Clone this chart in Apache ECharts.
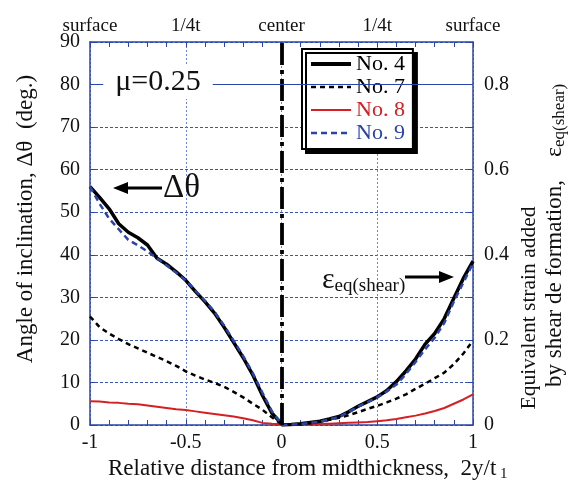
<!DOCTYPE html>
<html><head><meta charset="utf-8">
<script src="https://cdn.jsdelivr.net/npm/echarts@6/dist/echarts.min.js"></script>
<style>html,body{margin:0;padding:0;background:#fff}#c{width:570px;height:483px}</style>
</head><body><div id="c"></div>
<script>
const xLeft = [-1,-0.95,-0.9,-0.85,-0.8,-0.75,-0.7,-0.65,-0.6,-0.55,-0.5,-0.45,-0.4,-0.35,-0.3,-0.25,-0.2,-0.15,-0.1,-0.05,0];
const xRight = [0,0.05,0.1,0.15,0.2,0.25,0.3,0.35,0.4,0.45,0.5,0.55,0.6,0.65,0.7,0.75,0.8,0.85,0.9,0.95,1];
// Angle of inclination (deg.) on left half
const no4Angle = [56.0,53.5,50.8,47.3,45.3,44.0,42.3,39.2,37.8,36.0,34.0,31.4,29.0,26.3,23.0,19.4,15.8,11.8,7.0,2.8,0.3];
const no7Angle = [25.5,23.0,21.5,20.2,19.0,18.0,17.0,16.0,15.0,13.9,12.6,11.6,10.7,9.9,9.0,7.8,6.5,5.0,3.6,1.8,0.2];
const no8Angle = [5.6,5.5,5.3,5.2,5.0,4.9,4.6,4.3,4.0,3.7,3.5,3.2,2.9,2.6,2.3,2.0,1.6,1.1,0.5,0.3,0.2];
const no9Angle = [56.0,52.0,48.5,46.0,43.5,42.2,40.8,39.2,37.5,35.8,34.0,31.6,29.2,26.6,23.4,19.8,16.2,12.2,7.6,3.2,0.3];
// Equivalent strain added by shear deformation on right half
const no4Strain = [0.000,0.001,0.003,0.006,0.009,0.014,0.020,0.031,0.044,0.055,0.066,0.081,0.102,0.127,0.155,0.190,0.215,0.250,0.298,0.345,0.385];
const no7Strain = [0.000,0.001,0.002,0.004,0.008,0.012,0.017,0.023,0.030,0.038,0.045,0.053,0.062,0.072,0.085,0.097,0.110,0.123,0.143,0.168,0.198];
const no8Strain = [0.001,0.001,0.002,0.002,0.003,0.003,0.004,0.005,0.006,0.007,0.009,0.011,0.014,0.018,0.022,0.027,0.033,0.040,0.050,0.060,0.072];
const no9Strain = [0.000,0.001,0.002,0.005,0.008,0.013,0.019,0.030,0.043,0.054,0.065,0.079,0.095,0.120,0.148,0.178,0.205,0.240,0.290,0.335,0.380];
const topLabels = ['surface','1/4t','center','1/4t','surface'];
const legendNames = ['No. 4','No. 7','No. 8','No. 9'];

const FONT = 'Liberation Serif';
const BLUE = '#2a44a8';
const zip = (xs, ys) => xs.map((x, i) => [x, ys[i]]);

const styles = {
  'No. 4': {color:'#000', width:3.5, type:'solid', text:'#000'},
  'No. 7': {color:'#000', width:2.5, type:[5,4], text:'#000'},
  'No. 8': {color:'#d42024', width:2, type:'solid', text:'#d42024'},
  'No. 9': {color:'#2a44a8', width:2.5, type:[6,4], text:'#2a44a8'}
};
const angles = {'No. 4':no4Angle,'No. 7':no7Angle,'No. 8':no8Angle,'No. 9':no9Angle};
const strains = {'No. 4':no4Strain,'No. 7':no7Strain,'No. 8':no8Strain,'No. 9':no9Strain};
const order = ['No. 8','No. 7','No. 4','No. 9'];

const series = [];
order.forEach(n => {
  const s = styles[n];
  const ls = {color:s.color, width:s.width, type:s.type};
  series.push({name:n, type:'line', xAxisIndex:0, yAxisIndex:0, data:zip(xLeft, angles[n]), showSymbol:false, symbol:'none', lineStyle:ls, itemStyle:{color:s.color}, z:3});
  series.push({name:n, type:'line', xAxisIndex:0, yAxisIndex:1, data:zip(xRight, strains[n]), showSymbol:false, symbol:'none', lineStyle:ls, itemStyle:{color:s.color}, z:3});
});
series.push({type:'line', data:[], xAxisIndex:0, yAxisIndex:0, silent:true,
  markLine:{symbol:'none', silent:true, label:{show:false},
    data:[
      {xAxis:0, lineStyle:{color:'#000', width:3.8, type:[22,5,4,5]}},
      {yAxis:80, lineStyle:{color:BLUE, width:1, type:'solid'}}
    ]}, z:4});

const axisLabel = {fontFamily:FONT, fontSize:20, color:'#111'};
const option = {
  animation:false,
  backgroundColor:'#fff',
  grid:{left:90, right:97, top:42, bottom:58},
  legend:{
    data: legendNames.map(n => ({name:n, textStyle:{color:styles[n].text},
      lineStyle:{color:styles[n].color, width:n==='No. 4'?4:styles[n].width, type:styles[n].type}})),
    orient:'vertical', left:302, top:49, padding:[4,8,5,7], itemGap:1,
    itemWidth:40, itemHeight:14,
    itemStyle:{opacity:0},
    textStyle:{fontFamily:FONT, fontSize:22, lineHeight:22},
    backgroundColor:'#fff', borderColor:'#000', borderWidth:2, borderRadius:0,
    shadowColor:'#000', shadowOffsetX:4, shadowOffsetY:4, shadowBlur:0,
    selectedMode:false
  },
  xAxis:[
    {type:'value', position:'bottom', min:-1, max:1, interval:0.5,
     axisLine:{show:true, onZero:false, lineStyle:{color:BLUE, width:1.5}},
     axisTick:{show:true, inside:true, length:5, lineStyle:{color:BLUE}},
     minorTick:{show:true, splitNumber:5, length:5, lineStyle:{color:BLUE}},
     axisLabel:Object.assign({margin:8}, axisLabel),
     splitLine:{show:true, lineStyle:{color:'#6f82cc', type:[2,2], width:1}}},
    {type:'value', position:'top', min:-1, max:1, interval:0.5,
     axisLine:{show:true, onZero:false, lineStyle:{color:BLUE, width:1.5}},
     axisTick:{show:true, inside:true, length:5, lineStyle:{color:BLUE}},
     minorTick:{show:true, splitNumber:5, length:5, lineStyle:{color:BLUE}},
     axisLabel:Object.assign({}, axisLabel, {fontSize:19, margin:6, formatter:(v) => topLabels[Math.round((v+1)*2)]}),
     splitLine:{show:false}}
  ],
  yAxis:[
    {type:'value', position:'left', min:0, max:90, interval:10,
     axisLine:{show:true, onZero:false, lineStyle:{color:BLUE, width:1.5}},
     axisTick:{show:true, inside:true, length:5, lineStyle:{color:BLUE}},
     axisLabel:Object.assign({margin:10}, axisLabel),
     splitLine:{show:true, lineStyle:{color:'#3a55b8', type:[3,2], width:1}}},
    {type:'value', position:'right', min:0, max:0.9, interval:0.1,
     axisLine:{show:true, onZero:false, lineStyle:{color:BLUE, width:1.5}},
     axisTick:{show:true, inside:true, length:5, lineStyle:{color:BLUE}},
     axisLabel:Object.assign({margin:11, formatter:(v) => {const k=Math.round(v*10); return (k%2===0 && k<9) ? (k===0?'0':(k/10).toFixed(1)) : '';}}, axisLabel),
     splitLine:{show:false}}
  ],
  graphic:[
    {type:'text', z:100, style:{text:'μ=0.25', x:158, y:82, align:'center', verticalAlign:'middle', font:'30px "Liberation Serif"', fill:'#111', backgroundColor:'#fff', padding:[2,12]}},
    {type:'line', z:100, shape:{x1:162, y1:188, x2:124, y2:188}, style:{stroke:'#000', lineWidth:3}},
    {type:'polygon', z:100, shape:{points:[[113,188],[128,182],[128,194]]}, style:{fill:'#000'}},
    {type:'text', z:100, style:{text:'Δθ', x:163, y:188, align:'left', verticalAlign:'middle', font:'33px "Liberation Serif"', fill:'#111'}},
    {type:'text', z:100, style:{
      text:'{e|ε}{s|eq(shear)}', x:322, y:283, align:'left', verticalAlign:'middle',
      rich:{e:{fontFamily:FONT, fontSize:30, lineHeight:26, padding:[0,0,6,0], fill:'#111'},
            s:{fontFamily:FONT, fontSize:19, lineHeight:19, verticalAlign:'bottom', fill:'#111'}}}},
    {type:'line', z:100, shape:{x1:405, y1:277, x2:443, y2:277}, style:{stroke:'#000', lineWidth:3}},
    {type:'polygon', z:100, shape:{points:[[454,277],[439,271],[439,283]]}, style:{fill:'#000'}},
    {type:'text', z:100, rotation:Math.PI/2, x:26, y:219, style:{text:'Angle of inclination, Δθ  (deg.)', x:0, y:0, align:'center', verticalAlign:'middle', font:'23px "Liberation Serif"', fill:'#111'}},
    {type:'text', z:100, rotation:Math.PI/2, x:529, y:308, style:{text:'Equivalent strain added', x:0, y:0, align:'center', verticalAlign:'middle', font:'21.5px "Liberation Serif"', fill:'#111'}},
    {type:'text', z:100, rotation:Math.PI/2, x:557, y:387, style:{
      text:'{a|by shear de formation,    }{e|ε}{s|eq(shear)}', x:0, y:0, align:'left', verticalAlign:'middle',
      rich:{a:{fontFamily:FONT, fontSize:23, lineHeight:22, padding:[0,0,4,0], fill:'#111'},
            e:{fontFamily:FONT, fontSize:24, lineHeight:22, padding:[0,0,4,0], fill:'#111'},
            s:{fontFamily:FONT, fontSize:17, lineHeight:17, verticalAlign:'bottom', fill:'#111'}}}},
    {type:'text', z:100, x:108, y:471, style:{
      text:'{a|Relative distance from midthickness,  2y/t}{s| 1}', x:0, y:0, align:'left', verticalAlign:'middle',
      rich:{a:{fontFamily:FONT, fontSize:23, lineHeight:22, padding:[0,0,5,0], fill:'#111'},
            s:{fontFamily:FONT, fontSize:15, lineHeight:15, verticalAlign:'bottom', fill:'#111'}}}}
  ],
  series: series
};
const chart = echarts.init(document.getElementById('c'), null, {renderer:'canvas'});
chart.setOption(option);
</script></body></html>
